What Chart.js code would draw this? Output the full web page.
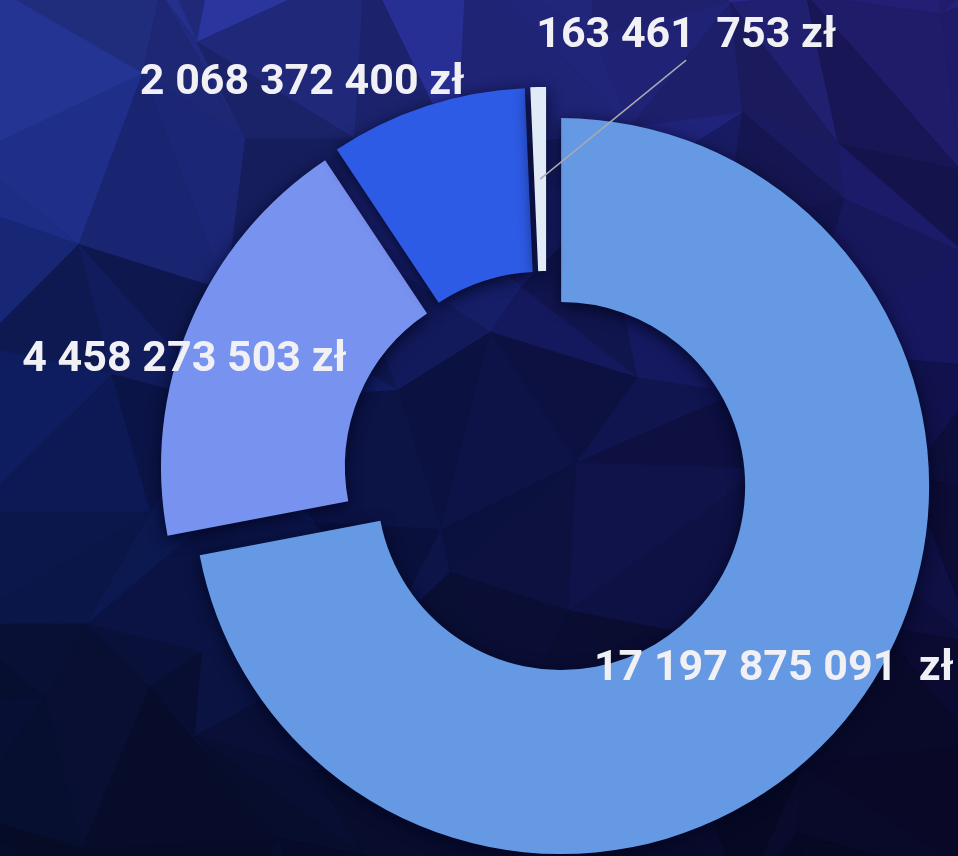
<!DOCTYPE html>
<html>
<head>
<meta charset="utf-8">
<script src="https://cdn.jsdelivr.net/npm/chart.js@4.4.0/dist/chart.umd.min.js"></script>
<style>
  html, body { margin: 0; padding: 0; background: #0c1550; }
  #wrap { position: relative; width: 958px; height: 856px; }
</style>
</head>
<body>
<div id="wrap"><canvas id="chart"></canvas></div>
<script>
// values in zł, clockwise from 12 o'clock
const labels = ['17 197 875 091  zł', '4 458 273 503 zł', '2 068 372 400 zł', '163 461  753 zł'];
const values = [17197875091, 4458273503, 2068372400, 163461753];
const colors = ['#6699e3', '#7892ef', '#2e5be5', '#e1ebf7'];

// low-poly backdrop, purely decorative
function hash(i, j) {
  const v = Math.sin(i * 12.9898 + j * 78.233) * 43758.5453;
  return v - Math.floor(v);
}
function mix(a, b, t) { return a.map((c, k) => c + (b[k] - c) * t); }
function bgColor(x, y) {
  const rows = [
    [[40, 56, 156], [33, 28, 108]],
    [[12, 26, 86], [18, 18, 78]],
    [[6, 13, 42], [8, 8, 36]]
  ];
  const s = Math.min(Math.max(x / 958, 0), 1);
  const t = Math.min(Math.max(y / 856, 0), 1);
  const top = t < 0.45 ? rows[0] : rows[1];
  const bot = t < 0.45 ? rows[1] : rows[2];
  const tt = t < 0.45 ? t / 0.45 : (t - 0.45) / 0.55;
  return mix(mix(top[0], top[1], s), mix(bot[0], bot[1], s), tt);
}
const backdrop = {
  id: 'backdrop',
  beforeDraw(chart) {
    const ctx = chart.ctx;
    const cols = 9, rows = 8, dx = 958 / (cols - 1), dy = 856 / (rows - 1);
    const pts = [];
    for (let j = -1; j <= rows; j++) {
      pts[j + 1] = [];
      for (let i = -1; i <= cols; i++) {
        pts[j + 1][i + 1] = [
          i * dx + (hash(i, j) - 0.5) * dx * 0.8,
          j * dy + (hash(j + 7, i + 3) - 0.5) * dy * 0.8
        ];
      }
    }
    ctx.save();
    ctx.fillStyle = '#0c1550';
    ctx.fillRect(0, 0, chart.width, chart.height);
    for (let j = 0; j < pts.length - 1; j++) {
      for (let i = 0; i < pts[j].length - 1; i++) {
        const a = pts[j][i], b = pts[j][i + 1], c = pts[j + 1][i + 1], d = pts[j + 1][i];
        const tris = hash(i * 3, j * 5) > 0.5 ? [[a, b, c], [a, c, d]] : [[a, b, d], [b, c, d]];
        tris.forEach((tri, k) => {
          const cx = (tri[0][0] + tri[1][0] + tri[2][0]) / 3;
          const cy = (tri[0][1] + tri[1][1] + tri[2][1]) / 3;
          const f = 0.8 + hash(i + k * 11, j * 2 + k) * 0.35;
          const col = bgColor(cx, cy).map(v => Math.round(Math.min(255, v * f)));
          ctx.fillStyle = ctx.strokeStyle = 'rgb(' + col.join(',') + ')';
          ctx.lineWidth = 1;
          ctx.beginPath();
          ctx.moveTo(tri[0][0], tri[0][1]);
          ctx.lineTo(tri[1][0], tri[1][1]);
          ctx.lineTo(tri[2][0], tri[2][1]);
          ctx.closePath();
          ctx.fill();
          ctx.stroke();
        });
      }
    }
    ctx.restore();
  }
};

// push every slice out along its own mid angle by the same distance
const explode = {
  id: 'explode',
  afterDatasetUpdate(chart, args, opts) {
    chart.getDatasetMeta(args.index).data.forEach(arc => {
      const mid = (arc.startAngle + arc.endAngle) / 2;
      arc.x += Math.cos(mid) * opts.distance;
      arc.y += Math.sin(mid) * opts.distance;
    });
  }
};

const shadow = {
  id: 'shadow',
  beforeDatasetsDraw(chart) {
    const ctx = chart.ctx;
    ctx.save();
    ctx.shadowColor = 'rgba(2, 6, 32, 0.9)';
    ctx.shadowBlur = 16;
    ctx.shadowOffsetY = 4;
  },
  afterDatasetsDraw(chart) { chart.ctx.restore(); }
};

const valueLabels = {
  id: 'valueLabels',
  afterDraw(chart, args, opts) {
    const ctx = chart.ctx;
    ctx.save();
    ctx.font = opts.font;
    ctx.textAlign = 'center';
    ctx.textBaseline = 'alphabetic';
    chart.getDatasetMeta(0).data.forEach((arc, i) => {
      const p = arc.tooltipPosition();
      const sh = opts.shift[i];
      const lx = p.x + sh[0], ly = p.y + sh[1];
      if (opts.leader[i]) {
        ctx.strokeStyle = '#a9a9b0';
        ctx.lineWidth = 1.5;
        ctx.beginPath();
        ctx.moveTo(p.x, p.y);
        ctx.lineTo(lx, ly + 28);
        ctx.stroke();
      }
      ctx.fillStyle = '#f1f1f5';
      ctx.fillText(chart.data.labels[i], lx, ly + 15);
    });
    ctx.restore();
  }
};

new Chart(document.getElementById('chart'), {
  type: 'doughnut',
  data: {
    labels: labels,
    datasets: [{
      data: values,
      backgroundColor: colors,
      borderWidth: 0,
      hoverOffset: 0
    }]
  },
  options: {
    responsive: true,
    maintainAspectRatio: false,
    animation: false,
    radius: 368,
    cutout: '50%',
    layout: { padding: { left: 135, top: 92, right: 0, bottom: 0 } },
    events: [],
    plugins: {
      legend: { display: false },
      tooltip: { enabled: false },
      explode: { distance: 19 },
      valueLabels: {
        font: 'bold 43px Roboto',
        shift: [[0, 3], [-90, -4], [-153, -115], [146, -147]],
        leader: [false, false, false, true]
      }
    }
  },
  plugins: [backdrop, explode, shadow, valueLabels]
});
</script>
</body>
</html>
